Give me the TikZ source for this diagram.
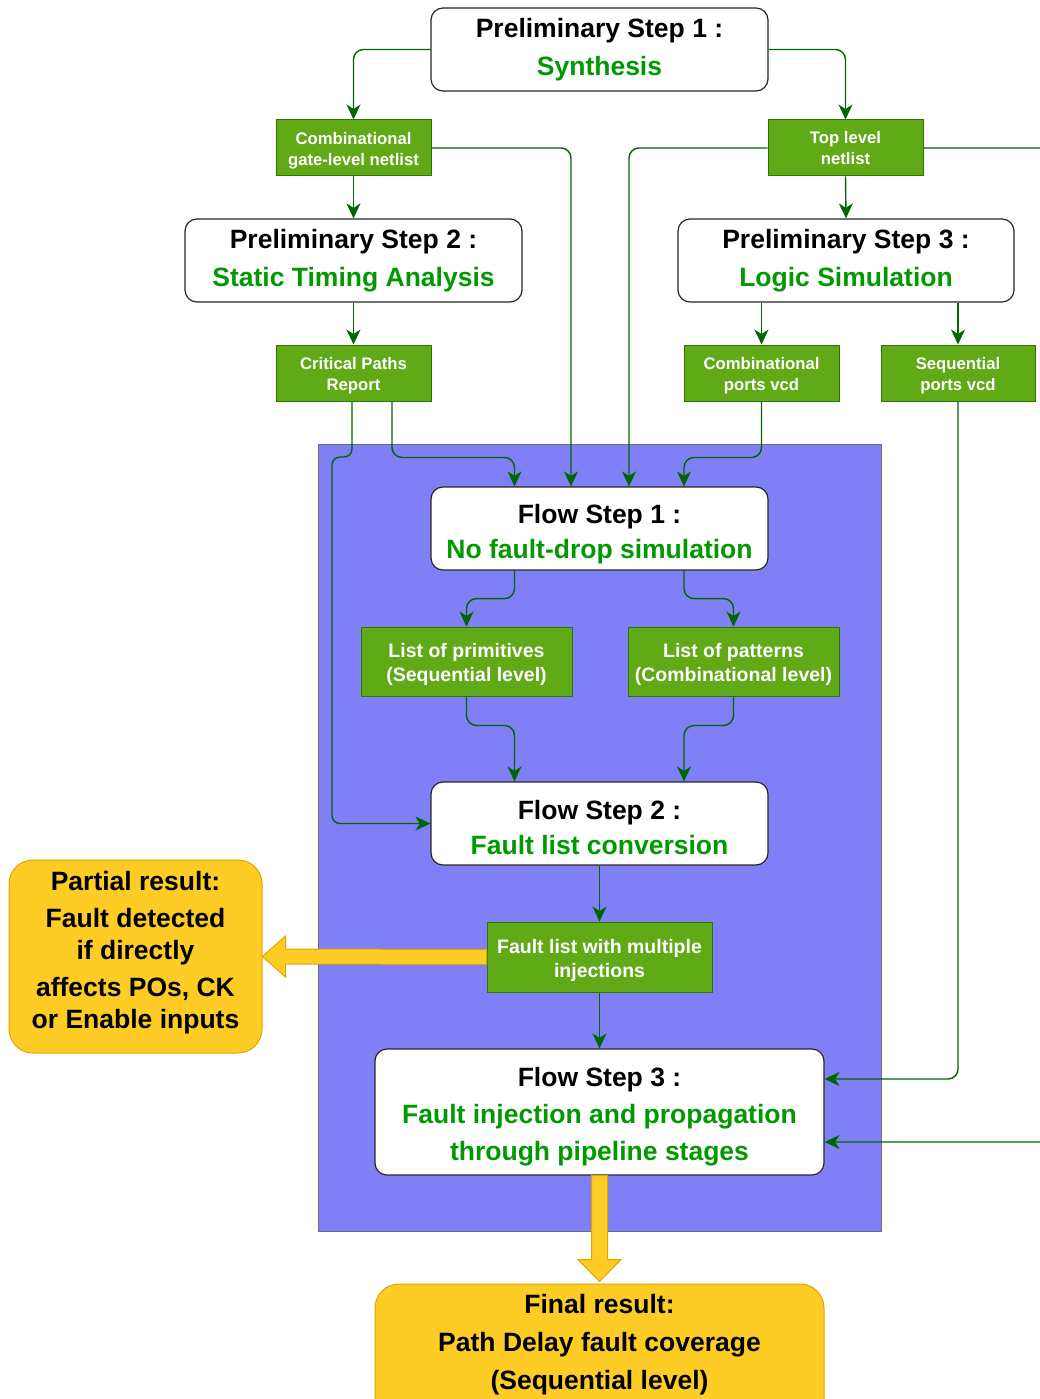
\documentclass[tikz,border=0pt]{standalone}
\usepackage{fontspec}
\setmainfont{Liberation Sans}
\usetikzlibrary{arrows.meta,calc}
\definecolor{gfill}{HTML}{60A917}
\definecolor{gdraw}{HTML}{2D7600}
\definecolor{tgreen}{HTML}{009900}
\definecolor{lgreen}{HTML}{006600}
\definecolor{bfill}{HTML}{7F7FF6}
\definecolor{bdraw}{HTML}{6C6C8A}
\definecolor{yfill}{HTML}{FDCC25}
\definecolor{ydraw}{HTML}{E0A500}
\newcommand\fbig{\fontsize{26.5}{38}\selectfont\bfseries}
\newcommand\fsmall{\fontsize{16.7}{21}\selectfont\bfseries}
\newcommand\fmid{\fontsize{19.5}{24}\selectfont\bfseries}
\newcommand\liftup[1]{\rule{0pt}{#1}}
\begin{document}
\begin{tikzpicture}[x=1pt,y=-1pt,
  whitebox/.style={draw=black!85, fill=white, rounded corners=12pt, line width=1.2pt, inner sep=0pt, align=center, font=\fbig},
  greenbox/.style={draw=gdraw, fill=gfill, text=white, inner sep=0pt, align=center, line width=1pt},
  yellowbox/.style={draw=ydraw, fill=yfill, rounded corners=24pt, line width=1pt, inner sep=0pt},
  conn/.style={draw=lgreen, line width=1.4pt, rounded corners=10pt, -{Stealth[length=15pt,width=14pt,inset=4.5pt]}},
  fat/.style={draw=ydraw, fill=yfill, line width=1pt, line join=miter}
]
\clip (0,0) rectangle (1040,1399);
\useasboundingbox (0,0) rectangle (1040,1399);

% region
\node (region) [draw=bdraw, fill=bfill, line width=1pt, minimum width=563, minimum height=787, inner sep=0pt] at (599.5,837.5) {};

% white boxes
\node (ps1) [whitebox, minimum width=337, minimum height=83] at (599.5,49.5) {Preliminary Step 1 :\\\textcolor{tgreen}{Synthesis}};
\node (ps2) [whitebox, minimum width=337, minimum height=83] at (353.5,260.5) {Preliminary Step 2 :\\\textcolor{tgreen}{Static Timing Analysis}};
\node (ps3) [whitebox, minimum width=336, minimum height=83] at (846,260.5) {Preliminary Step 3 :\\\textcolor{tgreen}{Logic Simulation}};
\node (fs1) [whitebox, minimum width=337, minimum height=83, font=\fontsize{26.5}{35}\selectfont\bfseries] at (599.5,528.5) {\liftup{30pt}Flow Step 1 :\\\textcolor{tgreen}{No fault-drop simulation}};
\node (fs2) [whitebox, minimum width=337, minimum height=83, font=\fontsize{26.5}{35}\selectfont\bfseries] at (599.5,823.5) {\liftup{28pt}Flow Step 2 :\\\textcolor{tgreen}{Fault list conversion}};
\node (fs3) [whitebox, minimum width=449, minimum height=126, font=\fontsize{26.5}{37}\selectfont\bfseries] at (599.5,1112) {\liftup{28pt}Flow Step 3 :\\\textcolor{tgreen}{Fault injection and propagation}\\\textcolor{tgreen}{through pipeline stages}};

% green boxes
\node (cgn) [greenbox, font=\fsmall, minimum width=155, minimum height=56] at (353.5,148) {\liftup{17.5pt}Combinational\\gate-level netlist};
\node (tln) [greenbox, font=\fsmall, minimum width=155, minimum height=56] at (845.5,148) {Top level\\netlist};
\node (cpr) [greenbox, font=\fsmall, minimum width=155, minimum height=56] at (353.5,373) {\liftup{18pt}Critical Paths\\Report};
\node (cpv) [greenbox, font=\fsmall, minimum width=155, minimum height=56] at (761.5,373) {\liftup{18pt}Combinational\\ports vcd};
\node (spv) [greenbox, font=\fsmall, minimum width=154, minimum height=56] at (958,373) {\liftup{18pt}Sequential\\ports vcd};
\node (lprim) [greenbox, font=\fmid, minimum width=211, minimum height=69] at (466.5,661.5) {\liftup{20.5pt}List of primitives\\(Sequential level)};
\node (lpat) [greenbox, font=\fmid, minimum width=211, minimum height=69] at (733.5,661.5) {\liftup{20.5pt}List of patterns\\(Combinational level)};
\node (flm) [greenbox, font=\fmid, minimum width=225, minimum height=70] at (599.5,957) {\liftup{20.5pt}Fault list with multiple\\injections};

% yellow boxes
\node (partial) [yellowbox, minimum width=253, minimum height=193] at (135.5,956.5) {};
\node (partialtext) [align=center, inner sep=0pt, font=\fontsize{26.5}{32}\selectfont\bfseries] at ([yshift=4pt]partial.center) {Partial result:\\[5pt]Fault detected\\if directly\\[5pt]affects POs, CK\\or Enable inputs};
\node (final) [yellowbox, minimum width=449, minimum height=170] at (599.5,1369) {};
\node (finaltext) [align=center, inner sep=0pt, font=\fontsize{26.5}{38}\selectfont\bfseries] at (599.5,1345) {Final result:\\Path Delay fault coverage\\(Sequential level)};

% connectors
\draw[conn] (ps1.west) -| (cgn.north);
\draw[conn] (ps1.east) -| (tln.north);
\draw[conn] (cgn.south) -- (ps2.north);
\draw[conn] (tln.south) -- (ps3.north);
\draw[conn] (cgn.east) -| ([xshift=-28.5pt]fs1.north);
\draw[conn] (tln.west) -| ([xshift=29.5pt]fs1.north);
\draw[conn] (tln.east) -- (1060,148) |- ([yshift=-30pt]fs3.east);
\draw[conn] (ps2.south) -- (cpr.north);
\draw[conn] (cpv.north |- ps3.south) -- (cpv.north);
\draw[conn] (spv.north |- ps3.south) -- (spv.north);
\draw[conn, rounded corners=8pt] ([xshift=-1.5pt]cpr.south) |- (332,457) |- (fs2.west);
\draw[conn] ([xshift=38.5pt]cpr.south) -- ++(0,56) -| ([xshift=-85pt]fs1.north);
\draw[conn] (cpv.south) -- ++(0,56) -| ([xshift=84.5pt]fs1.north);
\draw[conn] (spv.south) |- ([yshift=33pt]fs3.east);
\draw[conn] ([xshift=-85pt]fs1.south) -- ++(0,28) -| (lprim.north);
\draw[conn] ([xshift=84.5pt]fs1.south) -- ++(0,28) -| (lpat.north);
\draw[conn] (lprim.south) -- ++(0,29) -| ([xshift=-85pt]fs2.north);
\draw[conn] (lpat.south) -- ++(0,29) -| ([xshift=84.5pt]fs2.north);
\draw[conn] (fs2.south) -- (flm.north);
\draw[conn] (flm.south) -- (fs3.north);

% fat arrows
\draw[fat] ([yshift=7.5pt]flm.west) -- ([xshift=23pt,yshift=7.5pt]partial.east) -- ([xshift=23pt,yshift=20.5pt]partial.east) -- (partial.east) -- ([xshift=23pt,yshift=-20.5pt]partial.east) -- ([xshift=23pt,yshift=-7.5pt]partial.east) -- ([yshift=-7.5pt]flm.west) -- cycle;
\draw[fat] ([xshift=-8pt]fs3.south) -- ([xshift=-8pt,yshift=24pt]final.north) -- ([xshift=-21.5pt,yshift=24pt]final.north) -- ([yshift=2pt]final.north) -- ([xshift=21.5pt,yshift=24pt]final.north) -- ([xshift=8pt,yshift=24pt]final.north) -- ([xshift=8pt]fs3.south) -- cycle;
\end{tikzpicture}
\end{document}
